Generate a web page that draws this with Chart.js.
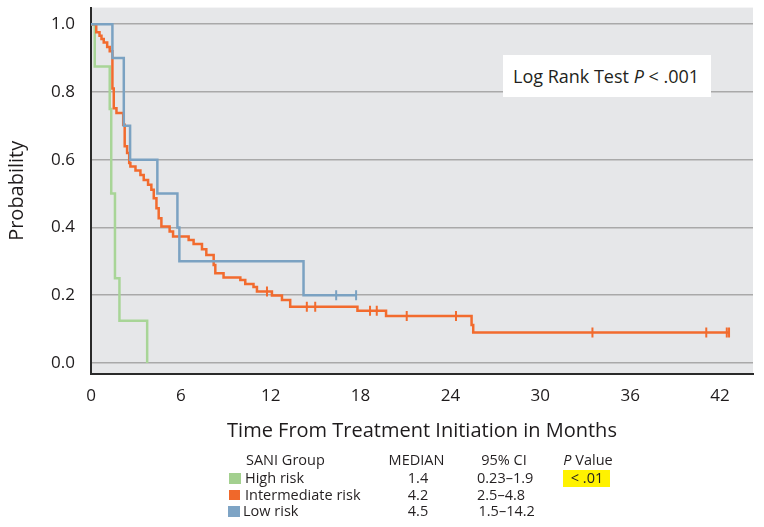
<!DOCTYPE html>
<html>
<head>
<meta charset="utf-8">
<script src="https://cdn.jsdelivr.net/npm/chart.js@4.4.1/dist/chart.umd.min.js"></script>
<style>
html,body{margin:0;padding:0;background:#fff;}
#wrap{position:relative;width:764px;height:527px;font-family:"Open Sans",sans-serif;color:#231f20;overflow:hidden;}
#c{position:absolute;left:0;top:0;}
.t{position:absolute;white-space:nowrap;font-size:14.5px;line-height:18px;height:18px;}
.c{text-align:center;width:80px;}
.sq{position:absolute;width:11.5px;height:10.5px;}
#lr{position:absolute;left:503px;top:55px;width:208px;height:42px;background:#fff;font-size:18px;line-height:42px;}
#lr span{position:absolute;left:10px;top:0;white-space:nowrap;}
#hl{position:absolute;left:563px;top:470px;width:47px;height:17px;background:#fff200;}
</style>
</head>
<body>
<div id="wrap">
<canvas id="c" width="764" height="527"></canvas>
<div id="lr"><span>Log Rank Test <i>P</i> &lt; .001</span></div>
<div id="hl"></div>
<div class="t" style="left:246px;top:451px;">SANI Group</div>
<div class="t c" style="left:376.5px;top:451px;">MEDIAN</div>
<div class="t c" style="left:464px;top:451px;">95% CI</div>
<div class="t c" style="left:548px;top:451px;"><i>P</i> Value</div>

<div class="sq" style="left:229px;top:473px;background:#a3d08f;"></div>
<div class="t" style="left:245px;top:469px;">High risk</div>
<div class="t c" style="left:378px;top:469px;">1.4</div>
<div class="t" style="left:477px;top:469px;">0.23–1.9</div>
<div class="t c" style="left:547px;top:469px;">&lt; .01</div>

<div class="sq" style="left:228.5px;top:489.5px;background:#f0682b;"></div>
<div class="t" style="left:245px;top:485.5px;">Intermediate risk</div>
<div class="t c" style="left:378px;top:485.5px;">4.2</div>
<div class="t" style="left:477px;top:485.5px;">2.5–4.8</div>

<div class="sq" style="left:228px;top:506px;background:#7ea4c5;"></div>
<div class="t" style="left:243px;top:502px;">Low risk</div>
<div class="t c" style="left:378px;top:502px;">4.5</div>
<div class="t" style="left:478.5px;top:502px;">1.5–14.2</div>
</div>
<script>
// ---- data ----
const xTicks = [0, 6, 12, 18, 24, 30, 36, 42];
const yTicks = [0, 0.2, 0.4, 0.6, 0.8, 1.0];

const highTimes = [0, 0.25, 1.25, 1.35, 1.6, 1.9, 3.75];
const highSurv  = [1, 0.875, 0.75, 0.5, 0.25, 0.125, 0];

const lowTimes = [0, 1.43, 2.19, 2.61, 4.43, 5.77, 5.9, 14.19, 17.7];
const lowSurv  = [1, 0.9, 0.7, 0.6, 0.5, 0.4, 0.3, 0.2, 0.2];
const lowCensorTimes = [16.37, 17.7];
const lowCensorSurv  = [0.2, 0.2];

const midTimes = [0, 0.35, 0.57, 0.70, 0.85, 1.08, 1.25, 1.43, 1.52, 1.7, 2.15, 2.25, 2.41, 2.55, 2.63, 2.97, 3.3, 3.52, 3.81, 4.03, 4.19, 4.37, 4.52, 4.7, 5.25, 5.48, 6.52, 6.85, 7.41, 7.7, 8.19, 8.3, 8.85, 9.97, 10.3, 10.85, 11.08, 12.08, 12.75, 13.3, 17.79, 19.7, 25.41, 25.52, 42.6];
const midSurv  = [1, 0.976, 0.966, 0.956, 0.946, 0.933, 0.920, 0.81, 0.752, 0.738, 0.703, 0.64, 0.62, 0.59, 0.58, 0.568, 0.555, 0.540, 0.526, 0.511, 0.486, 0.457, 0.427, 0.403, 0.388, 0.373, 0.363, 0.351, 0.336, 0.319, 0.289, 0.265, 0.252, 0.245, 0.233, 0.224, 0.211, 0.199, 0.186, 0.166, 0.154, 0.139, 0.112, 0.09, 0.09];
const midCensorTimes = [11.75, 14.41, 14.97, 18.63, 19.08, 21.08, 24.37, 33.48, 41.08, 42.45, 42.6];
const midCensorSurv  = [0.211, 0.166, 0.166, 0.154, 0.154, 0.139, 0.139, 0.09, 0.09, 0.09, 0.09];

const colHigh = '#a8d597';
const colMid  = '#f26b2e';
const colLow  = '#7ba2c2';
const FONT = '"Open Sans", sans-serif';
const TXT = '#1e1b1c';

function pts(t, s) { return t.map((v, i) => ({x: v, y: s[i]})); }
function curve(label, t, s, col) {
  return {label, data: pts(t, s), stepped: true, borderColor: col, borderWidth: 2.5,
          pointRadius: 0, fill: false, tension: 0};
}
function censor(label, t, s, col) {
  return {label, data: pts(t, s), showLine: false, pointStyle: 'line', pointRotation: 90,
          pointRadius: 5, pointBorderColor: col, pointBorderWidth: 2, pointBackgroundColor: col,
          borderColor: col, pointHoverRadius: 5};
}

const bgPlugin = {
  id: 'plotBg',
  beforeDraw(chart) {
    const {ctx, chartArea: a} = chart;
    ctx.save();
    ctx.fillStyle = '#e6e7e9';
    ctx.fillRect(a.left, a.top, a.right - a.left, a.bottom - a.top);
    ctx.restore();
  }
};

new Chart(document.getElementById('c'), {
  type: 'line',
  data: {
    datasets: [
      censor('Low censored', lowCensorTimes, lowCensorSurv, colLow),
      curve('Low risk', lowTimes, lowSurv, colLow),
      censor('Intermediate censored', midCensorTimes, midCensorSurv, colMid),
      curve('Intermediate risk', midTimes, midSurv, colMid),
      curve('High risk', highTimes, highSurv, colHigh)
    ]
  },
  options: {
    responsive: false,
    animation: false,
    devicePixelRatio: 1,
    events: [],
    layout: {padding: {left: 0, right: 11, top: 7.6, bottom: 83}},
    plugins: {legend: {display: false}, tooltip: {enabled: false}},
    scales: {
      x: {
        type: 'linear', min: 0, max: 44.2,
        afterBuildTicks(s) { s.ticks = xTicks.map(v => ({value: v})); },
        afterFit(s) { s.height = 70; s.paddingLeft = 0; s.paddingRight = 0; },
        grid: {display: false, drawTicks: false},
        border: {display: true, color: '#2a2a2a', width: 2},
        ticks: {padding: 12, color: TXT, font: {family: FONT, size: 17}, maxRotation: 0,
                callback: v => String(v)},
        title: {display: true, text: 'Time From Treatment Initiation in Months', color: TXT,
                font: {family: FONT, size: 20}, padding: {top: 0, bottom: 1}}
      },
      y: {
        type: 'linear', min: -0.0325, max: 1.049,
        afterBuildTicks(s) { s.ticks = yTicks.map(v => ({value: v})); },
        afterFit(s) { s.width = 91; s.paddingTop = 0; s.paddingBottom = 0; },
        grid: {color: '#a9a9a9', lineWidth: 1.5, drawTicks: false},
        border: {display: true, color: '#2a2a2a', width: 2},
        ticks: {padding: 16, color: TXT, font: {family: FONT, size: 17},
                callback: v => Number(v).toFixed(1)},
        title: {display: true, text: 'Probability', color: TXT,
                font: {family: FONT, size: 20}, padding: {top: 5, bottom: 0}}
      }
    }
  },
  plugins: [bgPlugin]
});
</script>
</body>
</html>
